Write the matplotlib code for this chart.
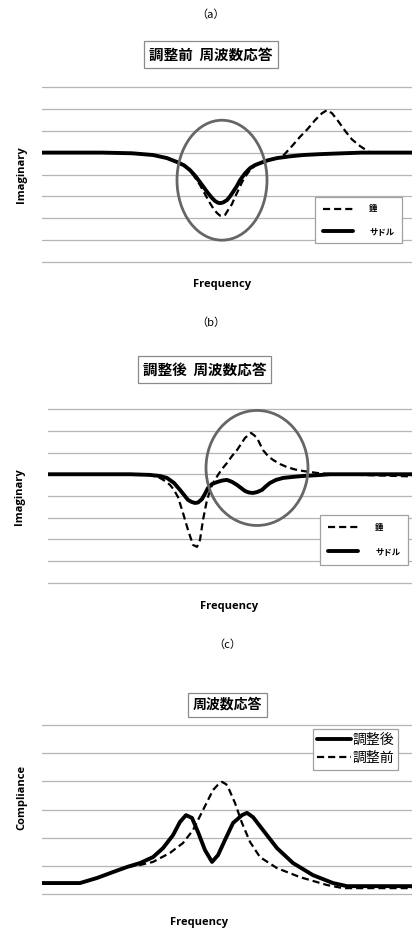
import matplotlib
matplotlib.use("Agg")
import matplotlib.pyplot as plt
from matplotlib.patches import Ellipse

# ---- data (x: frequency, arbitrary; y: gridline units) ----
# (a) before adjustment
a_saddle_x = [0, 60, 90, 111, 125, 135, 142, 148, 153, 158, 162, 166, 170, 173, 176, 178, 181, 185, 188, 191,
              195, 198, 203, 208, 213, 218, 226, 235, 248, 261, 278, 295, 320, 370]
a_saddle_y = [5.0, 5.0, 4.97, 4.89, 4.75, 4.57, 4.42, 4.2, 3.95, 3.65, 3.4, 3.15, 2.93, 2.79, 2.71, 2.69, 2.72,
              2.83, 3.0, 3.2, 3.48, 3.74, 4.05, 4.29, 4.43, 4.52, 4.65, 4.75, 4.83, 4.89, 4.93, 4.96, 5.0, 5.0]
a_weight_x = [0, 60, 90, 111, 125, 135, 142, 148, 158, 163, 168, 172, 175, 178, 180, 183, 186, 190, 193, 197,
              200, 204, 208, 213, 218, 226, 235, 241, 250, 258, 266, 273, 280, 285, 290, 296, 303, 310, 318,
              324, 328, 345, 370]
a_weight_y = [5.0, 5.0, 4.97, 4.89, 4.75, 4.57, 4.42, 4.2, 3.52, 3.1, 2.69, 2.4, 2.24, 2.12, 2.1, 2.15, 2.37,
              2.65, 2.97, 3.35, 3.65, 3.95, 4.2, 4.4, 4.52, 4.65, 4.75, 4.85, 5.3, 5.72, 6.1, 6.48, 6.8, 6.94,
              6.8, 6.45, 6.0, 5.6, 5.3, 5.12, 5.0, 5.0, 5.0]

# (b) after adjustment
b_saddle_x = [0, 82, 102, 112, 119, 126, 132, 136, 140, 144, 147, 150, 154, 157, 160, 164, 169, 174, 179, 184,
              189, 193, 197, 201, 205, 209, 214, 218, 222, 228, 235, 245, 255, 270, 282, 364]
b_saddle_y = [5.0, 5.0, 4.97, 4.92, 4.83, 4.6, 4.28, 4.05, 3.82, 3.72, 3.68, 3.7, 3.86, 4.1, 4.37, 4.55, 4.64,
              4.71, 4.74, 4.65, 4.51, 4.37, 4.23, 4.16, 4.14, 4.18, 4.28, 4.45, 4.6, 4.74, 4.83, 4.88, 4.92,
              4.96, 5.0, 5.0]
b_weight_x = [0, 82, 102, 112, 117, 122, 126, 130, 135, 140, 145, 149, 152, 155, 159, 164, 170, 174, 179, 184,
              189, 193, 197, 203, 206, 209, 212, 215, 220, 225, 232, 239, 247, 255, 269, 282, 364]
b_weight_y = [5.0, 5.0, 4.97, 4.83, 4.69, 4.51, 4.28, 3.95, 3.22, 2.44, 1.75, 1.66, 1.98, 2.9, 3.82, 4.51, 4.97,
              5.24, 5.52, 5.84, 6.11, 6.39, 6.67, 6.9, 6.8, 6.67, 6.39, 6.11, 5.84, 5.66, 5.47, 5.33, 5.22,
              5.15, 5.06, 5.01, 4.9]

# (c) compliance
c_after_x = [0, 38, 55, 71, 85, 98, 111, 121, 131, 138, 144, 150, 156, 163, 170, 176, 183, 191, 200, 205, 211,
             221, 235, 251, 271, 291, 305, 370]
c_after_y = [0.39, 0.39, 0.57, 0.78, 0.96, 1.1, 1.31, 1.63, 2.09, 2.56, 2.8, 2.7, 2.2, 1.56, 1.14, 1.38, 1.92,
             2.52, 2.8, 2.88, 2.73, 2.27, 1.63, 1.1, 0.67, 0.39, 0.28, 0.28]
c_before_x = [0, 38, 55, 71, 85, 98, 111, 128, 141, 151, 161, 171, 176, 180, 184, 186, 193, 200, 208, 218, 235,
              258, 285, 301, 370]
c_before_y = [0.39, 0.39, 0.57, 0.78, 0.96, 1.03, 1.14, 1.46, 1.81, 2.27, 2.98, 3.69, 3.88, 3.98, 3.9, 3.8, 3.23,
              2.52, 1.85, 1.31, 0.92, 0.6, 0.32, 0.21, 0.21]

W, H = 412, 932
CJK = ["Noto Sans CJK JP", "DejaVu Sans"]
LAT = ["Open Sans", "DejaVu Sans"]
GRID = "#b5b5b5"
DASH = (3.2, 1.8)


def rect(x0, y0, x1, y1):
    return [x0 / W, 1 - y1 / H, (x1 - x0) / W, (y1 - y0) / H]


def base_axes(fig, box, xmax, nlines):
    ax = fig.add_axes(rect(*box))
    ax.set_xlim(0, xmax)
    ax.set_ylim(-0.3, nlines - 1 + 0.3)
    ax.set_yticks(range(nlines))
    ax.yaxis.grid(True, color=GRID, lw=0.9)
    ax.set_xticks([])
    ax.tick_params(length=0, labelleft=False)
    for s in ax.spines.values():
        s.set_visible(False)
    ax.set_axisbelow(True)
    return ax


def title_box(fig, x, y, text, size):
    fig.text(x / W, 1 - y / H, text, ha="center", va="center", fontsize=size,
             fontweight="bold", family=CJK,
             bbox=dict(boxstyle="square,pad=0.35", fc="white", ec="#8a8a8a", lw=0.9))


def solid(ax, x, y, label):
    ax.plot(x, y, color="black", lw=2.8, label=label, zorder=3,
            solid_joinstyle="round", solid_capstyle="round")


def dashed(ax, x, y, label):
    ax.plot(x, y, color="black", lw=1.6, dashes=DASH, label=label, zorder=3)


fig = plt.figure(figsize=(W / 100, H / 100), dpi=100)
fig.patch.set_facecolor("white")

# ---------------- (a) ----------------
fig.text(211 / W, 1 - 15 / H, "（a）", ha="center", va="center", fontsize=8, family=CJK)
title_box(fig, 211, 54.5, "調整前  周波数応答", 10.5)
ax = base_axes(fig, (42, 80.4, 412, 268.6), 370, 9)
dashed(ax, a_weight_x, a_weight_y, "錘")
solid(ax, a_saddle_x, a_saddle_y, "サドル")
ax.add_patch(Ellipse((180, 3.74), 90, 5.48, fill=False, ec="#666666", lw=2.0, zorder=4))
leg = ax.legend(loc="upper left", bbox_to_anchor=(315 / W, 1 - 197 / H), bbox_transform=fig.transFigure,
                prop={"family": CJK, "size": 6, "weight": "bold"}, frameon=True, fancybox=False,
                edgecolor="#a0a0a0", framealpha=1, handlelength=3.6, handletextpad=2.0,
                labelspacing=1.6, borderpad=0.9, borderaxespad=0)
leg.get_frame().set_linewidth(0.9)
leg.set_zorder(5)
fig.text(222 / W, 1 - 285 / H, "Frequency", ha="center", va="center", fontsize=8,
         fontweight="bold", family=LAT)
fig.text(22 / W, 1 - 175 / H, "Imaginary", ha="center", va="center", fontsize=8,
         fontweight="bold", family=LAT, rotation=90)

# ---------------- (b) ----------------
fig.text(211 / W, 1 - 323 / H, "（b）", ha="center", va="center", fontsize=8, family=CJK)
title_box(fig, 204.5, 369.5, "調整後  周波数応答", 10.5)
ax = base_axes(fig, (48, 402.5, 412, 589.5), 364, 9)
dashed(ax, b_weight_x, b_weight_y, "錘")
solid(ax, b_saddle_x, b_saddle_y, "サドル")
ax.add_patch(Ellipse((209, 5.29), 102, 5.29, fill=False, ec="#666666", lw=2.0, zorder=4))
leg = ax.legend(loc="upper left", bbox_to_anchor=(320 / W, 1 - 515 / H), bbox_transform=fig.transFigure,
                prop={"family": CJK, "size": 6, "weight": "bold"}, frameon=True, fancybox=False,
                edgecolor="#a0a0a0", framealpha=1, handlelength=3.6, handletextpad=2.0,
                labelspacing=1.8, borderpad=1.0, borderaxespad=0)
leg.get_frame().set_linewidth(0.9)
leg.set_zorder(5)
fig.text(229 / W, 1 - 606 / H, "Frequency", ha="center", va="center", fontsize=8,
         fontweight="bold", family=LAT)
fig.text(20 / W, 1 - 497 / H, "Imaginary", ha="center", va="center", fontsize=8,
         fontweight="bold", family=LAT, rotation=90)

# ---------------- (c) ----------------
fig.text(227 / W, 1 - 645 / H, "（c）", ha="center", va="center", fontsize=8, family=CJK)
title_box(fig, 227.5, 705, "周波数応答", 10)
ax = base_axes(fig, (42, 716.5, 412, 902.5), 370, 7)
solid(ax, c_after_x, c_after_y, "調整後")
dashed(ax, c_before_x, c_before_y, "調整前")
leg = ax.legend(loc="upper left", bbox_to_anchor=(313 / W, 1 - 729 / H), bbox_transform=fig.transFigure,
                prop={"family": CJK, "size": 10}, frameon=True, fancybox=False,
                edgecolor="#a0a0a0", framealpha=1, handlelength=2.4, handletextpad=0.15,
                labelspacing=0.3, borderpad=0.3, borderaxespad=0)
leg.get_frame().set_linewidth(0.9)
leg.set_zorder(5)
fig.text(199 / W, 1 - 922 / H, "Frequency", ha="center", va="center", fontsize=8,
         fontweight="bold", family=LAT)
fig.text(22 / W, 1 - 797 / H, "Compliance", ha="center", va="center", fontsize=8,
         fontweight="bold", family=LAT, rotation=90)

fig.savefig("out.png", dpi=100, facecolor="white")
